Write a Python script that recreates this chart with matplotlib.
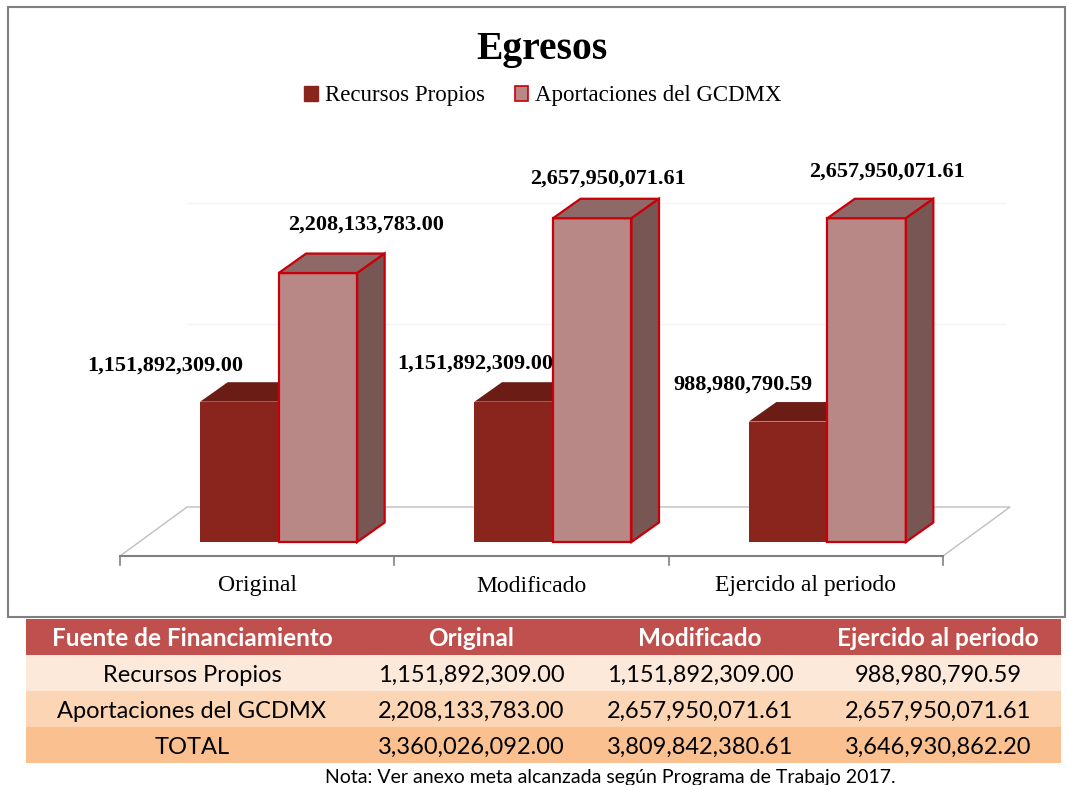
import matplotlib
matplotlib.use('Agg')
import matplotlib.pyplot as plt
from matplotlib.patches import Polygon, Rectangle, Patch

# ---- datos ----
categorias = ['Original', 'Modificado', 'Ejercido al periodo']
series = ['Recursos Propios', 'Aportaciones del GCDMX']
recursos_propios = [1151892309.00, 1151892309.00, 988980790.59]
aportaciones = [2208133783.00, 2657950071.61, 2657950071.61]
totales = [3360026092.00, 3809842380.61, 3646930862.20]

# ---- lienzo (coordenadas en pixeles de la imagen) ----
W, H = 1067, 785
def fx(px): return px / W
def fy(py): return 1 - py / H

fig = plt.figure(figsize=(W / 100, H / 100), dpi=100)
SERIF = ['Liberation Serif', 'DejaVu Serif']
SANS = ['Lato', 'DejaVu Sans']

# marco del grafico
fig.patches.append(Rectangle((fx(8), fy(617)), fx(1065) - fx(8), fy(7) - fy(617),
                             transform=fig.transFigure, fill=False,
                             edgecolor='#7F7F7F', lw=1.5))

# eje principal: x en categorias, y en pesos
X_PX = 3 / (943 - 120)
Y_PX = 1e9 / 121.8
ax = fig.add_axes([fx(120), fy(556), fx(943) - fx(120), fy(140) - fy(556)])
ax.set_xlim(-0.5, 2.5)
ax.set_ylim(-(556 - 542) * Y_PX, (542 - 140) * Y_PX)
ax.axis('off')

y0 = ax.get_ylim()[0]
fdx, fdy = 67 * X_PX, 49 * Y_PX      # profundidad del piso
bdx, bdy = 27.5 * X_PX, 19.5 * Y_PX  # profundidad de barras

# piso
floor = Polygon([(-0.5, y0), (2.5, y0), (2.5 + fdx, y0 + fdy), (-0.5 + fdx, y0 + fdy)],
                closed=True, facecolor='white', edgecolor='#BFBFBF', lw=1, clip_on=False, zorder=1)
ax.add_patch(floor)
ax.plot([-0.5, 2.5], [y0, y0], color='#808080', lw=1.5, clip_on=False, zorder=2)
for b in [-0.5, 0.5, 1.5, 2.5]:
    ax.plot([b, b], [y0, y0 - 9 * Y_PX], color='#808080', lw=1.2, clip_on=False, zorder=2)

# lineas de division muy tenues en la pared trasera
for g in [1.5e9, 2.5e9]:
    ax.plot([-0.5 + fdx, 2.5 + fdx - 0.02], [y0 + fdy + g, y0 + fdy + g],
            color='#F4F4F4', lw=1, clip_on=False, zorder=1)

def bar3d(x, w, h, front, top, side, edge, lw):
    ax.add_patch(Polygon([(x, 0), (x + w, 0), (x + w, h), (x, h)], closed=True,
                         facecolor=front, edgecolor=edge, lw=lw, zorder=3, clip_on=False))
    ax.add_patch(Polygon([(x, h), (x + w, h), (x + w + bdx, h + bdy), (x + bdx, h + bdy)],
                         closed=True, facecolor=top, edgecolor=edge, lw=lw, zorder=3, clip_on=False))
    ax.add_patch(Polygon([(x + w, 0), (x + w + bdx, bdy), (x + w + bdx, h + bdy), (x + w, h)],
                         closed=True, facecolor=side, edgecolor=edge, lw=lw, zorder=3, clip_on=False))

w = 78.5 * X_PX
off = -57 * X_PX
for i in range(len(categorias)):
    x_r = i + off
    bar3d(x_r, w, recursos_propios[i], '#8A251D', '#6B1D15', '#5A1812', 'none', 0)
    bar3d(x_r + w, w, aportaciones[i], '#B88886', '#8E6967', '#775654', '#C8000A', 1.6)

# etiquetas de valores (desplazamientos en pixeles)
off_rp = [(-74, 36), (-38, 38), (-45, 37)]
off_ap = [(48, 48), (16, 40), (20, 47)]
for i in range(len(categorias)):
    x_r = i + off
    ax.annotate(f'{recursos_propios[i]:,.2f}', (x_r + w / 2, recursos_propios[i]),
                xytext=off_rp[i], textcoords='offset pixels', ha='center', va='center',
                fontsize=16, fontweight='bold', family=SERIF, zorder=5)
    ax.annotate(f'{aportaciones[i]:,.2f}', (x_r + 1.5 * w, aportaciones[i]),
                xytext=off_ap[i], textcoords='offset pixels', ha='center', va='center',
                fontsize=16, fontweight='bold', family=SERIF, zorder=5)

# categorias
for i, c in enumerate(categorias):
    ax.annotate(c, (i, y0), xytext=(0, -30), textcoords='offset pixels',
                ha='center', va='center', fontsize=17, family=SERIF)

# titulo y leyenda
fig.text(fx(542), fy(50), 'Egresos', ha='center', va='center', fontsize=28.5,
         fontweight='bold', family=SERIF)
handles = [Patch(facecolor='#8A251D', edgecolor='#8A251D'),
           Patch(facecolor='#B88886', edgecolor='#C8000A', lw=1.2)]
fig.legend(handles, series, loc='center', bbox_to_anchor=(fx(543), fy(96)), ncol=2,
           frameon=False, handlelength=0.6, handleheight=0.6, handletextpad=0.3,
           columnspacing=1.3, prop={'family': SERIF, 'size': 16.5})

# ---- tabla ----
col_edges = [26, 358, 585, 815, 1061]
row_edges = [619, 655, 691, 727, 763]
row_colors = ['#C0504D', '#FDE9D9', '#FCD5B4', '#FAC090']
encabezado = ['Fuente de Financiamiento'] + categorias
filas = [
    [series[0]] + [f'{v:,.2f}' for v in recursos_propios],
    [series[1]] + [f'{v:,.2f}' for v in aportaciones],
    ['TOTAL'] + [f'{v:,.2f}' for v in totales],
]
tabla = [encabezado] + filas
for r, fila in enumerate(tabla):
    top, bot = row_edges[r], row_edges[r + 1]
    fig.patches.append(Rectangle((fx(col_edges[0]), fy(bot)), fx(col_edges[-1]) - fx(col_edges[0]),
                                 fy(top) - fy(bot), transform=fig.transFigure,
                                 facecolor=row_colors[r], edgecolor='none'))
    for c, txt in enumerate(fila):
        cx = (col_edges[c] + col_edges[c + 1]) / 2
        fig.text(fx(cx), fy((top + bot) / 2 + 2), txt, ha='center', va='center',
                 fontsize=17.5 if r == 0 else 17, family=SANS,
                 color='white' if r == 0 else 'black',
                 fontweight='bold' if r == 0 else 'normal')

fig.text(fx(610), fy(777), 'Nota: Ver anexo meta alcanzada según Programa de Trabajo 2017.',
         ha='center', va='center', fontsize=14, family=SANS)

fig.savefig('out.png', dpi=100)
